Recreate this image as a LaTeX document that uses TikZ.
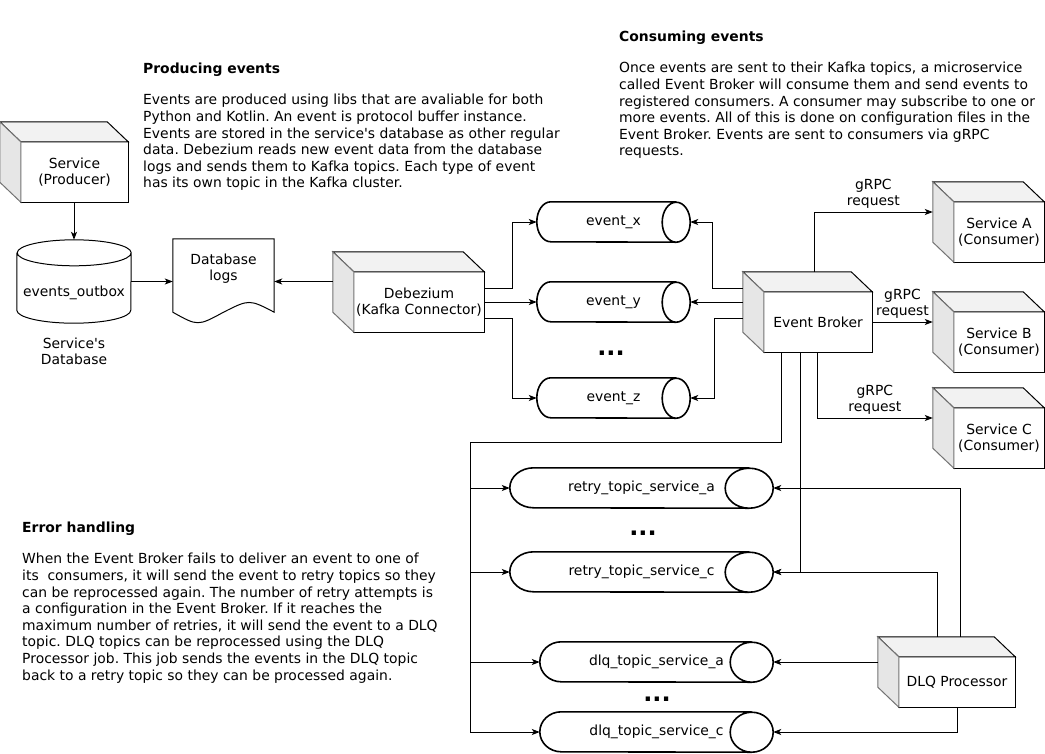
\documentclass[tikz,border=0pt]{standalone}
\usepackage{fontspec}
\setmainfont{DejaVu Sans}
\usetikzlibrary{arrows.meta}
\definecolor{cubeside}{RGB}{230,230,230}
\definecolor{cubetop}{RGB}{242,242,242}
\frenchspacing

\begin{document}
\begin{tikzpicture}[x=1pt, y=-1pt, font=\fontsize{13.9}{16.6}\selectfont]
    \tikzstyle{line}=[draw=black, line width=1pt]
    \tikzstyle{arrow}=[line, -{Stealth[length=8pt, width=6pt, inset=2pt]}]
    \tikzstyle{annot}=[align=center, inner sep=3pt]
    \tikzstyle{para}=[align=left, anchor=north west, inner sep=0pt]
    \tikzstyle{dots}=[inner sep=0pt, anchor=base, font=\fontsize{24}{24}\selectfont]
    \tikzstyle{inlabel}=[align=center, inner sep=0pt]
    \tikzset{
      cube/.style={minimum height=80pt, inner sep=0pt,
        append after command={\pgfextra{
          \draw[line] ([xshift=21pt, yshift=-20pt]\tikzlastnode.north west) rectangle (\tikzlastnode.south east);
          \draw[line, fill=cubetop] (\tikzlastnode.north west) -- ([xshift=-21pt]\tikzlastnode.north east)
            -- ([yshift=-20pt]\tikzlastnode.north east) -- ([xshift=21pt, yshift=-20pt]\tikzlastnode.north west) -- cycle;
          \draw[line, draw=black!55, fill=cubeside] (\tikzlastnode.north west) -- ([xshift=21pt, yshift=-20pt]\tikzlastnode.north west)
            -- ([xshift=21pt]\tikzlastnode.south west) -- ([yshift=20pt]\tikzlastnode.south west) -- cycle;}},
        label={[inlabel, xshift=10.5pt, yshift=-10pt]center:#1}},
      topic/.style={minimum height=40pt, inner sep=0pt,
        append after command={\pgfextra{
          \draw[line width=1.6pt] ([xshift=-#1pt]\tikzlastnode.north east) -- ([xshift=#1pt]\tikzlastnode.north west)
            arc (90:270:#1pt and 20pt) -- ([xshift=-#1pt]\tikzlastnode.south east)
            arc (-90:90:#1pt and 20pt) arc (90:270:#1pt and 20pt);}}},
      dbcyl/.style={minimum width=114pt, minimum height=83pt, inner sep=0pt,
        append after command={\pgfextra{
          \draw[line] ([yshift=-13pt]\tikzlastnode.north west) -- ([yshift=13pt]\tikzlastnode.south west)
            arc (180:360:57pt and 13pt) -- ([yshift=-13pt]\tikzlastnode.north east)
            arc (0:180:57pt and 13pt) arc (180:360:57pt and 13pt);}},
        label={[inlabel, yshift=-11.5pt]center:#1}},
      doc/.style={minimum width=101pt, minimum height=84pt, inner sep=0pt,
        append after command={\pgfextra{
          \draw[line] (\tikzlastnode.north west) -- (\tikzlastnode.north east) -- ([yshift=11pt]\tikzlastnode.south east)
            .. controls ([xshift=-25pt, yshift=24pt]\tikzlastnode.south east) .. ([yshift=11pt]\tikzlastnode.south)
            .. controls ([xshift=25pt, yshift=-3pt]\tikzlastnode.south west) .. ([yshift=11pt]\tikzlastnode.south west) -- cycle;}},
        label={[inlabel, yshift=12.5pt]center:#1}}
    }

    \path[use as bounding box, fill=white] (0,0) rectangle (1045,753);

    % Description texts
    \node[para] (prodtxt) at (143,63) {\textbf{Producing events}\\[14.6pt]
      Events are produced using libs that are avaliable for both\\
      Python and Kotlin. An event is protocol buffer instance.\\
      Events are stored in the service\textquotesingle s database as other regular\\
      data. Debezium reads new event data from the database\\
      logs and sends them to Kafka topics. Each type of event\\
      has its own topic in the Kafka cluster.};
    \node[para] (constxt) at (619,31) {\textbf{Consuming events}\\[14.6pt]
      Once events are sent to their Kafka topics, a microservice\\
      called Event Broker will consume them and send events to\\
      registered consumers. A consumer may subscribe to one or\\
      more events. All of this is done on configuration files in the\\
      Event Broker. Events are sent to consumers via gRPC\\
      requests.};
    \node[para] (errtxt) at (22,522) {\textbf{Error handling}\\[14.6pt]
      When the Event Broker fails to deliver an event to one of\\
      its\ \ consumers, it will send the event to retry topics so they\\
      can be reprocessed again. The number of retry attempts is\\
      a configuration in the Event Broker. If it reaches the\\
      maximum number of retries, it will send the event to a DLQ\\
      topic. DLQ topics can be reprocessed using the DLQ\\
      Processor job. This job sends the events in the DLQ topic\\
      back to a retry topic so they can be processed again.};

    % Producer side
    \node[cube={Service\\(Producer)}, minimum width=128pt] (prod) at (64,162) {};
    \node[dbcyl={events\_outbox}] (db) at (74,281.5) {};
    \node[annot] (dbname) at (74,351.5) {Service\textquotesingle s\\Database};
    \node[doc={Database\\logs}] (logs) at (223.5,281) {};
    \node[cube={Debezium\\(Kafka Connector)}, minimum width=151pt] (deb) at (408.5,292) {};

    % Kafka topics
    \node[topic=14, minimum width=153pt] (ex) at (613.5,222) {event\_x};
    \node[topic=14, minimum width=153pt] (ey) at (613.5,302) {event\_y};
    \node[topic=14, minimum width=153pt] (ez) at (613.5,398) {event\_z};
    \node[dots] (dots1) at (611,355) {\textbf{...}};

    % Event Broker and consumers
    \node[cube={Event Broker}, minimum width=129pt] (eb) at (807.5,312) {};
    \node[cube={Service A\\(Consumer)}, minimum width=111pt] (sa) at (988.5,222) {};
    \node[cube={Service B\\(Consumer)}, minimum width=111pt] (sb) at (988.5,332) {};
    \node[cube={Service C\\(Consumer)}, minimum width=111pt] (sc) at (988.5,428) {};

    % Retry and DLQ topics
    \node[topic=24, minimum width=263pt] (ra) at (641.5,488) {retry\_topic\_service\_a};
    \node[topic=24, minimum width=263pt] (rc) at (641.5,572) {retry\_topic\_service\_c};
    \node[topic=21.5, minimum width=233pt] (da) at (656.5,662) {dlq\_topic\_service\_a};
    \node[topic=21.5, minimum width=233pt] (dc) at (656.5,732) {dlq\_topic\_service\_c};
    \node[dots] (dots2) at (643,535) {\textbf{...}};
    \node[dots] (dots3) at (657,701.5) {\textbf{...}};
    \node[cube={DLQ Processor}, minimum width=137pt, minimum height=70pt] (dlq) at (946.5,672) {};

    % Producing
    \draw[arrow] (db.north |- prod.south) -- (db.north);
    \draw[arrow] (db.east) -- (db.east -| logs.west);
    \draw[arrow] (deb.west |- db.east) -- (logs.east |- db.east);
    \draw[arrow] ([yshift=4pt]deb.east) -- ++(28,0) |- (ex.west);
    \draw[arrow] (deb.east |- ey.west) -- (ey.west);
    \draw[arrow] ([yshift=-26pt]deb.east) -- ++(28,0) |- (ez.west);

    % Consuming
    \draw[arrow] ([yshift=24pt]eb.west) -- ++(-30,0) |- (ex.east);
    \draw[arrow] (eb.west |- ey.east) -- (ey.east);
    \draw[arrow] ([yshift=-6pt]eb.west) -- ++(-28,0) |- (ez.east);
    \coordinate (sain) at ([yshift=10pt]sa.west);
    \coordinate (sbin) at ([yshift=10pt]sb.west);
    \coordinate (scin) at ([yshift=10pt]sc.west);
    \draw[arrow] ([xshift=6.5pt]eb.north) |- (sain) node[annot, pos=0.75, above] (ga) {gRPC\\request};
    \draw[arrow] (eb.east |- sbin) -- (sbin) node[annot, midway, above] (gb) {gRPC\\request};
    \draw[arrow] ([xshift=9.5pt]eb.south) |- (scin) node[annot, pos=0.75, above] (gc) {gRPC\\request};

    % Error handling
    \coordinate (bus) at (470,442);
    \draw[line] ([xshift=-26.5pt]eb.south) |- (bus);
    \foreach \t in {ra,rc,da,dc}
      \draw[arrow] (bus) |- (\t.west);
    \draw[arrow] ([xshift=-7.5pt]eb.south) |- (rc.east);
    \draw[arrow] ([xshift=-9.5pt]dlq.north) |- (rc.east);
    \draw[arrow] ([xshift=13.5pt]dlq.north) |- (ra.east);
    \draw[arrow] (dlq.west |- da.east) -- (da.east);
    \draw[arrow] ([xshift=10.5pt]dlq.south) |- (dc.east);
\end{tikzpicture}
\end{document}
